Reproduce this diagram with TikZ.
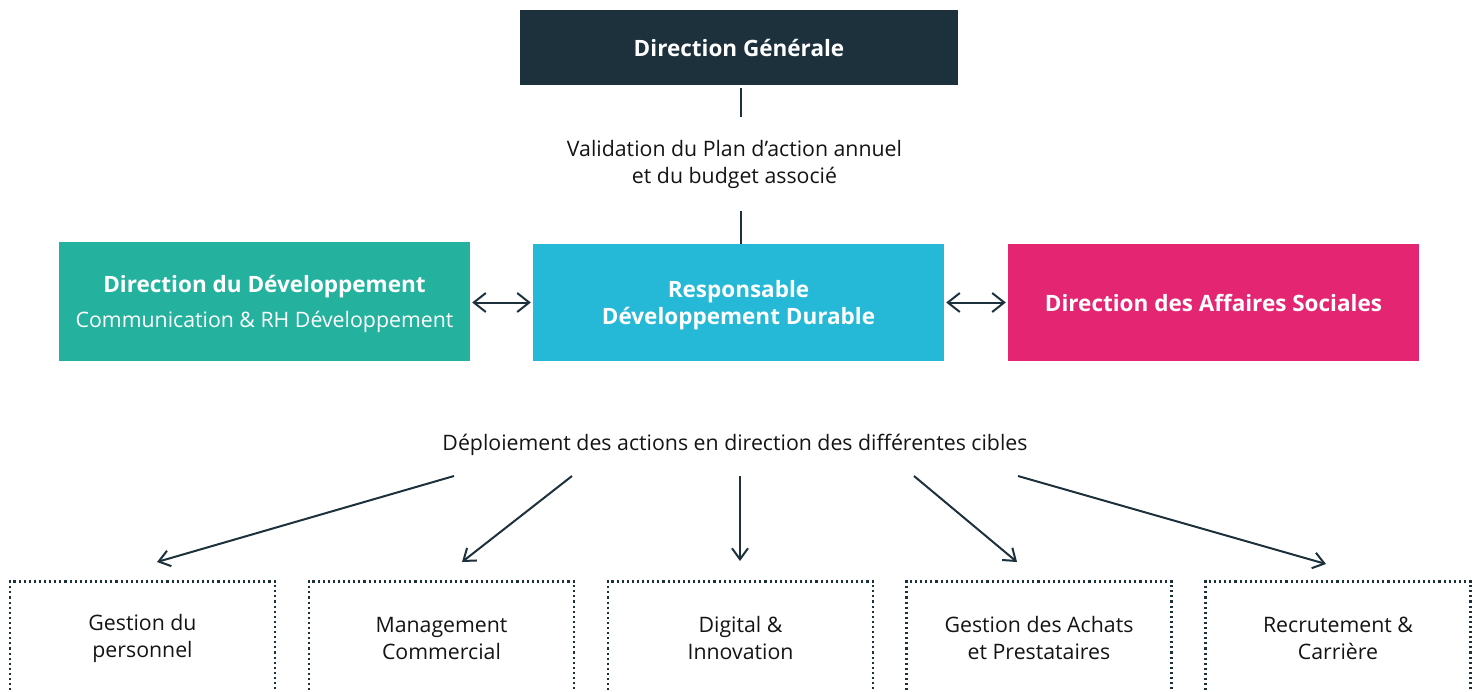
\documentclass[tikz,border=0pt]{standalone}
\usepackage{fontspec}
\setmainfont{Open Sans}
\definecolor{NavyDark}{RGB}{28,49,59}
\definecolor{TealDev}{RGB}{36,178,158}
\definecolor{CyanRdd}{RGB}{37,184,215}
\definecolor{MagentaSoc}{RGB}{228,37,114}
\colorlet{ColourText}{black!92}
\usetikzlibrary{arrows.meta}

\begin{document}
\begin{tikzpicture}[x=1pt,y=-1pt,
  font=\fontsize{21.3}{27}\selectfont,
  bloc/.style={minimum width=411pt,minimum height=117pt,inner sep=0pt,align=center,text depth=0pt,
    text=white,font=\fontsize{22.5}{27}\selectfont\bfseries},
  cible/.style={draw=NavyDark,line width=2.1pt,dash pattern=on 2.1pt off 3pt,
    minimum width=265pt,minimum height=113pt,inner sep=0pt,align=center,text=ColourText},
  lien/.style={NavyDark,line width=2pt},
  fleche/.style={lien,-{Straight Barb[length=11pt,width=16pt]}},
  double/.style={lien,{Straight Barb[length=12pt,width=19pt]}-{Straight Barb[length=12pt,width=19pt]}}]

  \clip (0,0) rectangle (1480,691);

  % top of the chain
  \node[bloc,fill=NavyDark,minimum width=438pt,minimum height=75pt] (dg) at (739,47.5) {Direction Générale};
  \node[align=center,text=ColourText,inner ysep=22.5pt] (valid) at (734.5,164) {Validation du Plan d’action annuel\\et du budget associé};

  % the three directions
  \node[bloc,fill=TealDev,minimum height=119pt] (dev) at (264.5,301.5)
    {Direction du Développement\\[8pt]{\mdseries\fontsize{21.3}{27}\selectfont Communication \& RH Développement}};
  \node[bloc,fill=CyanRdd] (rdd) at (738.5,302.5) {Responsable\\Développement Durable};
  \node[bloc,fill=MagentaSoc] (soc) at (1213.5,302.5) {Direction des Affaires Sociales};

  \draw[lien,shorten <=3pt] (dg.south -| 741,0) -- (valid.north -| 741,0);
  \draw[lien] (valid.south -| 741,0) -- (rdd.north -| 741,0);

  \draw[double,shorten <=2pt,shorten >=2pt] (rdd.west -| dev.east) -- (rdd.west);
  \draw[double,shorten <=2pt,shorten >=2pt] (rdd.east) -- (soc.west);

  \node[text=ColourText] (deploy) at (735,445) {Déploiement des actions en direction des différentes cibles};

  % targets, cut by the bottom edge
  \node[cible] (perso) at (142.5,638) {Gestion du\\personnel};
  \node[cible] (comm) at (441.5,638) {Management\\Commercial};
  \node[cible] (digit) at (740.5,638) {Digital \&\\Innovation};
  \node[cible] (achat) at (1039,638) {Gestion des Achats\\et Prestataires};
  \node[cible] (recru) at (1338,638) {Recrutement \&\\Carrière};

  \coordinate (d1) at (454,476);  \coordinate (p1) at (157,562);
  \coordinate (d2) at (572,476);  \coordinate (p2) at (462,562);
  \coordinate (d3) at (740,476);  \coordinate (p3) at (740,561);
  \coordinate (d4) at (914,476);  \coordinate (p4) at (1017,562);
  \coordinate (d5) at (1018,476); \coordinate (p5) at (1326,564);

  \foreach \i in {1,...,5}
    \draw[fleche] (d\i) -- (p\i);

\end{tikzpicture}
\end{document}
